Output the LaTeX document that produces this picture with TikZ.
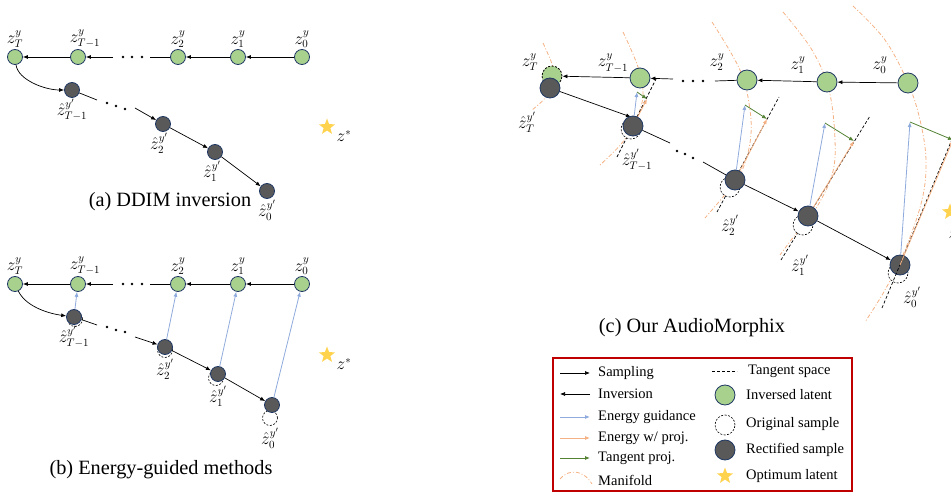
\documentclass[tikz,border=0pt]{standalone}
\usepackage{fontspec}
\setmainfont{Liberation Serif}
\usepackage{amsmath}
\usetikzlibrary{arrows.meta, shapes.geometric, positioning, calc}
\definecolor{LatentGreen}{HTML}{A9D18E}
\definecolor{NodeNavy}{HTML}{203864}
\definecolor{RectGray}{HTML}{595959}
\definecolor{GuideBlue}{HTML}{8FAADC}
\definecolor{ProjOrange}{HTML}{F4B183}
\definecolor{TangGreen}{HTML}{548235}
\definecolor{StarGold}{HTML}{FFD34D}
\definecolor{LegendRed}{HTML}{C00000}
\tikzset{
  latent/.style={circle, draw=NodeNavy, fill=LatentGreen, line width=0.8pt, minimum size=15pt, inner sep=0pt},
  rectified/.style={circle, draw=NodeNavy, fill=RectGray, line width=0.8pt, minimum size=15pt, inner sep=0pt},
  original/.style={circle, draw=black, fill=white, line width=0.6pt, dash pattern=on 2pt off 1.5pt, minimum size=15pt, inner sep=0pt},
  big/.style={minimum size=20pt},
  optimum/.style={star, star points=5, star point ratio=2.4, fill=StarGold, draw=none, minimum size=17pt, inner sep=0pt},
  lbl/.style={font=\fontsize{16}{18}\selectfont, inner sep=1pt},
  caption/.style={font=\fontsize{20.3}{23}\selectfont},
  legtext/.style={font=\fontsize{14.5}{16}\selectfont, anchor=west, inner sep=0pt},
  flow/.style={-{Latex[length=5pt,width=4pt]}, line width=0.7pt},
  plainline/.style={line width=0.7pt},
  guidance/.style={-{Latex[length=5pt,width=4pt]}, GuideBlue, line width=0.8pt},
  projected/.style={-{Latex[length=5pt,width=4pt]}, ProjOrange, line width=0.8pt},
  tangproj/.style={-{Latex[length=5pt,width=4pt]}, TangGreen, line width=0.8pt},
  manifold/.style={ProjOrange, line width=0.8pt, dash pattern=on 4pt off 2pt on 1pt off 2pt},
  tangspace/.style={line width=0.7pt, dash pattern=on 3pt off 2pt}
}

\begin{document}
\begin{tikzpicture}[x=1pt, y=-1pt]
\useasboundingbox (0,0) rectangle (951,494);

% ---------- (a) DDIM inversion ----------
\node[latent, label={[lbl]above:$z_T^y$}] (aT) at (15,57) {};
\node[latent, label={[lbl, xshift=7pt]above:$z_{T-1}^y$}] (aT1) at (78,57) {};
\node[latent, label={[lbl]above:$z_2^y$}] (a2) at (178,57) {};
\node[latent, label={[lbl]above:$z_1^y$}] (a1) at (238,57) {};
\node[latent, label={[lbl]above:$z_0^y$}] (a0) at (302,57) {};
\coordinate (aL) at (113,57);
\coordinate (aR) at (150,57);
\draw[flow] (a0) -- (a1);
\draw[flow] (a1) -- (a2);
\draw[plainline] (a2) -- (aR);
\draw[flow] (aL) -- (aT1);
\draw[flow] (aT1) -- (aT);
\foreach \p in {(123,57),(132,57),(142,57)} \fill \p circle (1.4pt);

\node[rectified, label={[lbl]below:$\hat z_{T-1}^{y'}$}] (raT1) at (72,90) {};
\node[rectified, label={[lbl, xshift=-4pt]below:$\hat z_2^{y'}$}] (ra2) at (163,124) {};
\node[rectified, label={[lbl, xshift=-3pt]below:$\hat z_1^{y'}$}] (ra1) at (215,152) {};
\node[rectified, label={[lbl]below:$\hat z_0^{y'}$}] (ra0) at (267,191) {};
\coordinate (aM) at (97,100);
\coordinate (aN) at (135,108);
\draw[flow] (aT) .. controls (18,80) and (45,90) .. (raT1);
\draw[plainline] (raT1) -- (aM);
\foreach \p in {(107,103),(116,106),(125,109)} \fill \p circle (1.3pt);
\draw[flow] (aN) -- (ra2);
\draw[flow] (ra2) -- (ra1);
\draw[flow] (ra1) -- (ra0);

\node[optimum] (sa) at (327,127) {};
\node[lbl] (za) at (344,136) {$z^*$};
\node[caption] (capa) at (170,202) {(a) DDIM inversion};

% ---------- (b) Energy-guided methods ----------
\node[latent, label={[lbl]above:$z_T^y$}] (bT) at (15,284) {};
\node[latent, label={[lbl, xshift=7pt]above:$z_{T-1}^y$}] (bT1) at (78,284) {};
\node[latent, label={[lbl]above:$z_2^y$}] (b2) at (178,284) {};
\node[latent, label={[lbl]above:$z_1^y$}] (b1) at (238,284) {};
\node[latent, label={[lbl]above:$z_0^y$}] (b0) at (302,284) {};
\coordinate (bL) at (113,284);
\coordinate (bR) at (150,284);
\draw[flow] (b0) -- (b1);
\draw[flow] (b1) -- (b2);
\draw[plainline] (b2) -- (bR);
\draw[flow] (bL) -- (bT1);
\draw[flow] (bT1) -- (bT);
\foreach \p in {(123,284),(132,284),(142,284)} \fill \p circle (1.4pt);

\node[original] (obT1) at (75,319) {};
\node[original] (ob2) at (165,350) {};
\node[original] (ob1) at (216,378) {};
\node[original] (ob0) at (270,418) {};
\node[rectified, label={[lbl]below:$\hat z_{T-1}^{y'}$}] (rbT1) at (74,317) {};
\node[rectified, label={[lbl, yshift=-3pt]below:$\hat z_2^{y'}$}] (rb2) at (165,347) {};
\node[rectified, label={[lbl, yshift=-3pt]below:$\hat z_1^{y'}$}] (rb1) at (218,374) {};
\node[rectified] (rb0) at (272,405) {};
\node[lbl, below=1pt of ob0] (lb0) {$\hat z_0^{y'}$};
\coordinate (bM) at (97,325);
\coordinate (bN) at (135,337);
\draw[flow] (bT) .. controls (25,305) and (45,313) .. (rbT1);
\draw[plainline] (rbT1) -- (bM);
\foreach \p in {(107,327),(116,330),(125,332)} \fill \p circle (1.3pt);
\draw[flow] (bN) -- (rb2);
\draw[flow] (rb2) -- (rb1);
\draw[flow] (rb1) -- (rb0);
\draw[guidance] (rbT1) -- (bT1);
\draw[guidance] (rb2) -- (b2);
\draw[guidance] (rb1) -- (b1);
\draw[guidance] (rb0) -- (b0);

\node[optimum] (sb) at (327,355) {};
\node[lbl] (zb) at (344,364) {$z^*$};
\node[caption] (capb) at (161,470) {(b) Energy-guided methods};

% ---------- (c) AudioMorphix ----------
% manifolds through each latent
\draw[manifold] plot[smooth, tension=0.6] coordinates {(543,43) (553,67) (553,82) (545,98) (532,110)};
\draw[manifold] plot[smooth, tension=0.6] coordinates {(623,32) (638,67) (643,95) (636,120) (622,143) (600,165)};
\draw[manifold] plot[smooth, tension=0.6] coordinates {(712,22) (740,70) (750,110) (750,143) (740,175) (723,197) (705,218)};
\draw[manifold] plot[smooth, tension=0.6] coordinates {(783,12) (812,50) (829,90) (835,140) (832,175) (815,210) (795,235) (780,255)};
\draw[manifold] plot[smooth, tension=0.6] coordinates {(853,6) (885,40) (908,83) (920,120) (926,160) (922,200) (905,250) (885,290) (865,322)};

% tangent spaces
\coordinate (tT1a) at (617,157); \coordinate (tT1b) at (657,77);
\coordinate (t2a) at (717,212);  \coordinate (t2b) at (779,97);
\coordinate (t1a) at (781,260);  \coordinate (t1b) at (870,116);
\coordinate (t0a) at (882,308);  \coordinate (t0b) at (960,120);
\draw[tangspace] (tT1a) -- (tT1b);
\draw[tangspace] (t2a) -- (t2b);
\draw[tangspace] (t1a) -- (t1b);

\node[latent, big, dash pattern=on 2pt off 1.5pt, draw=black] (cT) at (552,76) {};
\node[latent, big] (cT1) at (640,78) {};
\node[latent, big] (c2) at (747,80) {};
\node[latent, big] (c1) at (827,82) {};
\node[latent, big] (c0) at (908,83) {};
\node[lbl] (lcT) at (530,62) {$z_T^y$};
\node[lbl] (lcT1) at (613,63) {$z_{T-1}^y$};
\node[lbl] (lc2) at (717,62) {$z_2^y$};
\node[lbl] (lc1) at (798,65) {$z_1^y$};
\node[lbl] (lc0) at (880,65) {$z_0^y$};
\coordinate (cL) at (673,79);
\coordinate (cR) at (715,81);
\draw[flow] (c0) -- (c1);
\draw[flow] (c1) -- (c2);
\draw[plainline] (c2) -- (cR);
\draw[flow] (cL) -- (cT1);
\draw[flow] (cT1) -- (cT);
\foreach \p in {(683,81),(693,81),(703,81)} \fill \p circle (1.4pt);

\node[original, big] (ocT1) at (631,129) {};
\node[original, big] (oc2) at (730,187) {};
\node[original, big] (oc1) at (803,225) {};
\node[original, big] (oc0) at (898,273) {};
\coordinate (cM) at (670,143);
\coordinate (cN) at (703,162);
\node[rectified, big] (rcT) at (550,88) {};
\draw[flow] (rcT) -- (631,117) coordinate (cA);
\node[rectified, big] (rcT1) at (633,126) {};
\draw[plainline] (rcT1) -- (cM);
\foreach \p in {(677,151),(685,154),(693,158)} \fill \p circle (1.3pt);
\draw[plainline] (cN) -- (735,180);
\node[rectified, big] (rc2) at (735,180) {};
\node[rectified, big] (rc1) at (808,216) {};
\node[rectified, big] (rc0) at (900,265) {};
\draw[flow] (rc2) -- (rc1);
\draw[flow] (rc1) -- (rc0);
\node[lbl] (lrcT) at (527,122) {$\hat z_T^{y'}$};
\node[lbl] (lrcT1) at (637,160) {$\hat z_{T-1}^{y'}$};
\node[lbl] (lrc2) at (730,225) {$\hat z_2^{y'}$};
\node[lbl] (lrc1) at (800,265) {$\hat z_1^{y'}$};
\node[lbl] (lrc0) at (912,297) {$\hat z_0^{y'}$};

% guidance, projection onto the tangent space
\coordinate (qT1) at (637,92); \coordinate (rT1) at (647,99);
\coordinate (q2) at (745,105);  \coordinate (r2) at (767,119);
\coordinate (q1) at (825,123);  \coordinate (r1) at (854,141);
\coordinate (q0) at (910,122);  \coordinate (r0) at (953,140);
\draw[tangspace] (t0a) -- (t0b);
\foreach \s in {T1,2,1} {
  \draw[guidance] (rc\s) -- (q\s);
  \draw[projected] (rc\s) -- (r\s);
  \draw[tangproj] (q\s) -- (r\s);
}
\draw[guidance] (rc0) -- (q0);
\draw[projected] (rc0.center) -- (r0);
\draw[tangproj] (q0) -- (r0);

\node[optimum] (sc) at (950,212) {};
\node[lbl] (zc) at (956,233) {$z^*$};
\node[caption] (capc) at (692,328) {(c) Our AudioMorphix};

% ---------- legend ----------
\draw[LegendRed, line width=1.2pt] (553,358) rectangle (852,491);
\node[legtext] (lsamp) at (598,373) {Sampling};
\node[legtext] (linv) at (598,394) {Inversion};
\node[legtext] (lguid) at (598,417) {Energy guidance};
\node[legtext] (lproj) at (598,438) {Energy w/ proj.};
\node[legtext] (ltang) at (598,458) {Tangent proj.};
\node[legtext] (lmani) at (598,480) {Manifold};
\draw[flow] ([xshift=-38pt]lsamp.west) -- ([xshift=-8pt]lsamp.west);
\draw[flow] ([xshift=-8pt]linv.west) -- ([xshift=-38pt]linv.west);
\draw[guidance] ([xshift=-38pt]lguid.west) -- ([xshift=-8pt]lguid.west);
\draw[projected] ([xshift=-38pt]lproj.west) -- ([xshift=-8pt]lproj.west);
\draw[tangproj] ([xshift=-38pt]ltang.west) -- ([xshift=-8pt]ltang.west);
\draw[manifold] (560,479) .. controls (568,469) and (583,469) .. (592,484);

\node[legtext] (ltsp) at (748,371) {Tangent space};
\draw[tangspace] ([xshift=-36pt]ltsp.west) -- ([xshift=-11pt]ltsp.west);
\node[latent, big] (klat) at (725,395) {};
\node[original, big] (korig) at (725,425) {};
\node[rectified, big] (krect) at (725,450) {};
\node[optimum] (kstar) at (725,476) {};
\node[legtext] (llat) at (746,395) {Inversed latent};
\node[legtext] (lorig) at (746,424) {Original sample};
\node[legtext] (lrect) at (746,450) {Rectified sample};
\node[legtext] (lopt) at (746,476) {Optimum latent};
\end{tikzpicture}
\end{document}
